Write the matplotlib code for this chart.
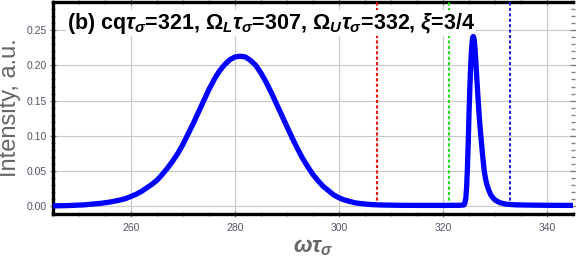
import numpy as np
import matplotlib
matplotlib.use("Agg")
import matplotlib.pyplot as plt
from matplotlib.ticker import MultipleLocator, FormatStrFormatter

plt.rcParams.update({
    "font.family": "Liberation Sans",
    "mathtext.fontset": "custom",
    "mathtext.rm": "Liberation Sans:bold",
    "mathtext.it": "Liberation Sans:bold:italic",
    "mathtext.bf": "Liberation Sans:bold",
})

# ── data ──
# broad peak
omega_a = [245, 248, 251, 254, 256, 258, 259, 260, 261, 262, 263, 264, 265,
           266, 267, 268, 269, 270, 271, 272, 273, 274, 275, 276, 277, 278,
           279, 280, 281, 282, 283, 284, 285, 286, 287, 288, 289, 290, 291,
           292, 293, 294, 295, 296, 297, 298, 299, 300, 301, 302, 303, 304,
           306, 308, 312, 316, 320, 323]
int_a = [0.0005, 0.001, 0.002, 0.004, 0.006, 0.009, 0.011, 0.014, 0.017,
         0.021, 0.026, 0.031, 0.037, 0.045, 0.054, 0.064, 0.075, 0.088,
         0.103, 0.118, 0.134, 0.150, 0.166, 0.180, 0.192, 0.201, 0.208,
         0.212, 0.213, 0.212, 0.207, 0.200, 0.189, 0.176, 0.161, 0.145,
         0.129, 0.113, 0.097, 0.082, 0.068, 0.056, 0.045, 0.036, 0.028,
         0.022, 0.016, 0.012, 0.009, 0.007, 0.005, 0.004, 0.0025, 0.0018,
         0.0013, 0.0012, 0.0012, 0.0013]
# narrow peak
omega_b = [324.0, 324.2, 324.4, 324.55, 324.7, 324.85, 325.0, 325.15, 325.3,
           325.45, 325.6, 325.7, 325.8, 325.9, 326.0, 326.15, 326.3, 326.45,
           326.6, 326.8, 327.0, 327.2, 327.4, 327.65, 327.9, 328.15, 328.4,
           328.65, 328.9, 329.2, 329.5, 329.85, 330.2, 330.6, 331.0, 331.5,
           332.0, 333, 334, 336, 338, 341, 345]
int_b = [0.0018, 0.004, 0.012, 0.028, 0.055, 0.090, 0.130, 0.165, 0.195,
         0.218, 0.233, 0.239, 0.241, 0.240, 0.236, 0.224, 0.207, 0.188,
         0.170, 0.146, 0.124, 0.106, 0.090, 0.070, 0.052, 0.040, 0.032,
         0.026, 0.021, 0.016, 0.013, 0.010, 0.008, 0.0063, 0.005, 0.004,
         0.003, 0.0025, 0.002, 0.0017, 0.0015, 0.0013, 0.0012]

marker_pos = [307.4, 321.1, 332.9]          # Omega_L, cq, Omega_U
marker_col = ["#ee1111", "#22dd22", "#2222dd"]

title = (r"(b) cq$\tau_\sigma$=321, $\Omega_L\tau_\sigma$=307, "
         r"$\Omega_U\tau_\sigma$=332, $\xi$=3/4")

fig = plt.figure(figsize=(5.76, 2.58), dpi=100)
ax = fig.add_axes([53 / 576, 44 / 258, 520 / 576, 212 / 258])

# curve above the title box so the narrow peak is never hidden
ax.plot(omega_a + omega_b, int_a + int_b, color="#0000ff", lw=3.8,
        solid_capstyle="round", solid_joinstyle="round", zorder=6)

for xv, c in zip(marker_pos, marker_col):
    ax.vlines(xv, 0, 0.3, colors=c, lw=1.5, linestyles=(0, (1.5, 1.1)), zorder=4)

ax.set_xlim(245, 345)
ax.set_ylim(-0.011, 0.29)
ax.xaxis.set_major_locator(MultipleLocator(20))
ax.xaxis.set_minor_locator(MultipleLocator(5))
ax.yaxis.set_major_locator(MultipleLocator(0.05))
ax.yaxis.set_minor_locator(MultipleLocator(0.01))
ax.yaxis.set_major_formatter(FormatStrFormatter("%.2f"))
ax.grid(True, which="major", color="#c8c8c8", lw=0.8)

for s in ["left", "bottom", "top"]:
    ax.spines[s].set_linewidth(2.4)
    ax.spines[s].set_color("black")
ax.spines["right"].set_visible(False)

ax.tick_params(which="both", colors="#808080", labelcolor="#555566",
               labelsize=7.5, top=True, right=True, direction="inout")
ax.tick_params(which="major", length=5, width=1)
ax.tick_params(which="minor", length=3, width=1)
ax.tick_params(axis="y", pad=2)
ax.tick_params(axis="x", pad=4)

ax.set_ylabel("Intensity, a.u.", fontsize=17, color="#666666", labelpad=4)
ax.set_xlabel(r"$\omega\tau_\sigma$", fontsize=16, color="#666666", labelpad=3)

ax.text(0.027, 0.9, title, transform=ax.transAxes, fontsize=15.5,
        fontweight="bold", color="black", ha="left", va="center", zorder=5,
        bbox=dict(facecolor="white", edgecolor="none", pad=0.5))

fig.savefig("out.png", dpi=100)
